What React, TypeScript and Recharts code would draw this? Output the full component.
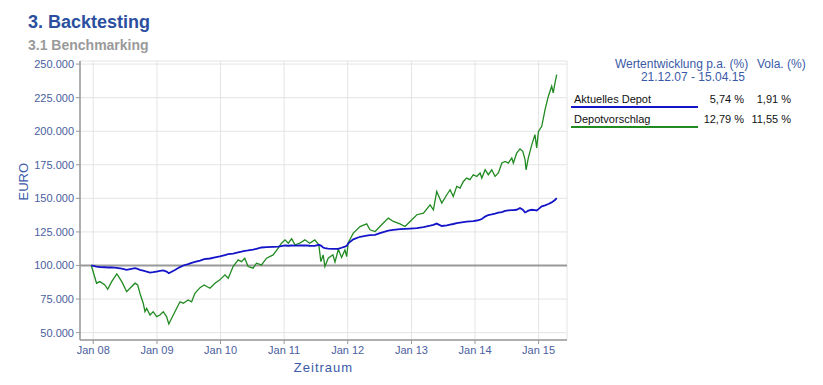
import { LineChart, Line, XAxis, YAxis, CartesianGrid, ReferenceLine } from "recharts";

// Backtesting: Aktuelles Depot vs. Depotvorschlag, 21.12.07 - 15.04.15
const dates = [
  "2007-12-21", "2008-01-20", "2008-02-08", "2008-03-08", "2008-03-24", "2008-04-16", "2008-05-15", "2008-05-24",
  "2008-06-13", "2008-07-11", "2008-07-30", "2008-08-28", "2008-09-12", "2008-09-25", "2008-10-14", "2008-10-24",
  "2008-11-03", "2008-11-22", "2008-12-10", "2008-12-30", "2009-01-18", "2009-02-06", "2009-02-25", "2009-03-10",
  "2009-03-26", "2009-04-14", "2009-05-13", "2009-06-01", "2009-06-29", "2009-07-19", "2009-08-07", "2009-09-05",
  "2009-09-29", "2009-11-01", "2009-11-30", "2009-12-28", "2010-01-26", "2010-02-14", "2010-03-14", "2010-04-12",
  "2010-05-01", "2010-05-20", "2010-06-08", "2010-07-07", "2010-07-26", "2010-08-24", "2010-09-22", "2010-10-30",
  "2010-11-28", "2010-12-17", "2011-01-06", "2011-01-25", "2011-02-13", "2011-03-04", "2011-04-01", "2011-04-30",
  "2011-05-28", "2011-06-26", "2011-07-19", "2011-07-31", "2011-08-13", "2011-08-23", "2011-09-11", "2011-10-08",
  "2011-10-20", "2011-11-08", "2011-11-27", "2011-12-16", "2011-12-26", "2012-01-04", "2012-02-02", "2012-03-12",
  "2012-04-19", "2012-05-08", "2012-06-06", "2012-07-04", "2012-08-21", "2012-09-19", "2012-10-27", "2012-11-25",
  "2012-12-24", "2013-02-01", "2013-03-11", "2013-04-18", "2013-05-07", "2013-05-26", "2013-06-24", "2013-07-23",
  "2013-08-11", "2013-08-29", "2013-09-18", "2013-10-07", "2013-10-26", "2013-11-14", "2013-12-03", "2013-12-22",
  "2014-01-11", "2014-01-30", "2014-02-09", "2014-02-28", "2014-03-18", "2014-04-07", "2014-04-26", "2014-05-15",
  "2014-06-04", "2014-06-23", "2014-07-11", "2014-07-31", "2014-08-09", "2014-08-28", "2014-09-16", "2014-10-02",
  "2014-10-15", "2014-10-21", "2014-11-03", "2014-11-23", "2014-12-11", "2014-12-21", "2014-12-31", "2015-01-19",
  "2015-02-07", "2015-02-26", "2015-03-17", "2015-03-26", "2015-04-05", "2015-04-15",
];

const aktuellesDepot = [
  100000, 99200, 98800, 98700, 98500, 98600, 98200, 98000,
  97600, 96700, 97300, 98000, 97400, 96800, 96200, 95800,
  95500, 94700, 95000, 95500, 96000, 96300, 95500, 94200,
  95300, 96600, 98800, 100000, 101000, 102000, 102700, 103600,
  104700, 105200, 106000, 106800, 107800, 108400, 108900, 109800,
  110300, 110900, 111200, 111800, 112400, 113400, 113600, 113900,
  114100, 114500, 114900, 114700, 114900, 114800, 114900, 115000,
  114700, 114600, 115400, 114800, 113400, 112900, 112600, 112400,
  112300, 112400, 113200, 114000, 114600, 116500, 119500, 121400,
  122300, 122600, 122800, 124100, 126000, 126600, 127100, 127300,
  127500, 127800, 128600, 129600, 130200, 131200, 129400, 129800,
  130500, 130900, 131500, 132000, 132300, 132600, 132800, 133000,
  133500, 134200, 134600, 136400, 137600, 138000, 138600, 139300,
  139800, 140600, 141000, 141200, 141300, 141500, 142800, 141500,
  139500, 139800, 140800, 141500, 141200, 141000, 142000, 144000,
  144800, 145800, 147000, 147800, 148800, 150200,
];

const depotvorschlag = [
  100000, 86800, 88000, 85500, 82300, 88000, 93700, 92000,
  88000, 80500, 83000, 86800, 85500, 79300, 71900, 65600,
  68000, 63100, 65600, 61900, 63100, 65600, 61900, 56400,
  60700, 65600, 73000, 71900, 74300, 73000, 79300, 83500,
  85500, 83000, 86800, 89300, 93000, 90500, 99200, 104200,
  102900, 105400, 99200, 98000, 101700, 100400, 105400, 107900,
  112900, 116600, 119100, 116600, 119900, 115400, 116600, 119100,
  116600, 119100, 115400, 102900, 107900, 99200, 105400, 108000,
  102500, 112000, 106000, 111600, 106600, 117000, 124100, 129000,
  131000, 126600, 125300, 129000, 135300, 132800, 131000, 129000,
  132800, 137800, 139000, 145200, 141500, 155100, 146500, 152700,
  156400, 151400, 158900, 157700, 162600, 165100, 163900, 167600,
  166300, 168900, 165100, 171300, 167600, 171300, 166300, 168900,
  176300, 177500, 176300, 180100, 176300, 183800, 186800, 185000,
  178800, 171300, 180100, 190000, 197500, 187500, 199900, 203700,
  216100, 226100, 233500, 228600, 236000, 242200,
];

const yearTicks = ["2008-01-01", "2009-01-01", "2010-01-01", "2011-01-01", "2012-01-01", "2013-01-01", "2014-01-01", "2015-01-01"];
const euroTicks = [50000, 75000, 100000, 125000, 150000, 175000, 200000, 225000, 250000];

const summaryRows = [
  { name: "Aktuelles Depot", perf: "5,74 %", vola: "1,91 %", color: "#1414c8" },
  { name: "Depotvorschlag", perf: "12,79 %", vola: "11,55 %", color: "#218a21" },
];

const chartData = dates.map((d, i) => ({
  t: Date.parse(d),
  aktuell: aktuellesDepot[i],
  vorschlag: depotvorschlag[i],
}));

const FONT = "'Liberation Sans', Arial, sans-serif";
const AXIS_BLUE = "#4a5e9e";
const HEAD_BLUE = "#3a5aa8";

const fmtEuro = (v: number) => `${v / 1000}.000`;
const fmtYear = (v: number) => `Jan ${String(new Date(v).getUTCFullYear()).slice(2)}`;

const abs = (left: number, top: number, extra: any = {}) => ({
  position: "absolute" as const,
  left,
  top,
  whiteSpace: "nowrap" as const,
  ...extra,
});

export default function App() {
  return (
    <div style={{ position: "absolute", left: 0, top: 0, width: 823, height: 385, background: "#fff", fontFamily: FONT }}>
      <div style={abs(28, 13, { fontSize: 18, lineHeight: "18px", fontWeight: 700, color: "#2b4f9e" })}>3. Backtesting</div>
      <div style={abs(28, 38, { fontSize: 14, lineHeight: "14px", fontWeight: 700, color: "#9a9a9a" })}>3.1 Benchmarking</div>

      <LineChart
        width={823}
        height={385}
        data={chartData}
        margin={{ top: 61, right: 256, bottom: 10, left: 22 }}
        style={{ position: "absolute", left: 0, top: 0 }}
      >
        <CartesianGrid stroke="#e4e4e4" strokeWidth={1} />
        <XAxis
          type="number"
          dataKey="t"
          domain={[Date.parse("2007-10-17"), Date.parse("2015-06-13")]}
          ticks={yearTicks.map((d) => Date.parse(d))}
          tickFormatter={fmtYear}
          allowDataOverflow
          height={35}
          tickSize={4}
          tickMargin={2}
          axisLine={{ stroke: "#999", strokeWidth: 1.5 }}
          tickLine={{ stroke: "#999" }}
          tick={{ fill: AXIS_BLUE, fontSize: 11, fontFamily: FONT }}
          label={{ value: "Zeitraum", position: "insideBottom", offset: 3, fill: HEAD_BLUE, fontSize: 13, fontFamily: FONT, letterSpacing: 1 }}
        />
        <YAxis
          type="number"
          domain={[44500, 252300]}
          ticks={euroTicks}
          tickFormatter={fmtEuro}
          allowDataOverflow
          width={58}
          tickSize={4}
          tickMargin={2}
          axisLine={{ stroke: "#999", strokeWidth: 1.5 }}
          tickLine={{ stroke: "#999" }}
          tick={{ fill: AXIS_BLUE, fontSize: 11, fontFamily: FONT }}
          label={{ value: "EURO", angle: -90, position: "insideLeft", offset: 1, fill: HEAD_BLUE, fontSize: 13, fontFamily: FONT }}
        />
        <ReferenceLine y={100000} stroke="#999" strokeWidth={2} />
        <Line type="linear" dataKey="vorschlag" stroke="#218a21" strokeWidth={1.3} dot={false} isAnimationActive={false} />
        <Line type="linear" dataKey="aktuell" stroke="#1414c8" strokeWidth={1.8} dot={false} isAnimationActive={false} />
      </LineChart>

      {/* summary table */}
      <div style={abs(615, 58, { width: 130, textAlign: "right", fontSize: 12, lineHeight: "13px", color: HEAD_BLUE })}>
        Wertentwicklung p.a. (%)
      </div>
      <div style={abs(757, 58, { fontSize: 12, lineHeight: "13px", color: HEAD_BLUE })}>Vola. (%)</div>
      <div style={abs(615, 71, { width: 130, textAlign: "right", fontSize: 12, lineHeight: "13px", color: HEAD_BLUE })}>
        21.12.07 - 15.04.15
      </div>
      {summaryRows.map((r, i) => {
        const top = 93 + i * 19.5;
        return (
          <div key={r.name}>
            <div style={abs(574, top, { fontSize: 11, lineHeight: "12px", color: "#111" })}>{r.name}</div>
            <div style={abs(684, top, { width: 60, textAlign: "right", fontSize: 11, lineHeight: "12px", color: "#111" })}>{r.perf}</div>
            <div style={abs(741, top, { width: 50, textAlign: "right", fontSize: 11, lineHeight: "12px", color: "#111" })}>{r.vola}</div>
            <div style={abs(571, top + 13, { width: 127, height: 2, background: r.color })} />
          </div>
        );
      })}
    </div>
  );
}
